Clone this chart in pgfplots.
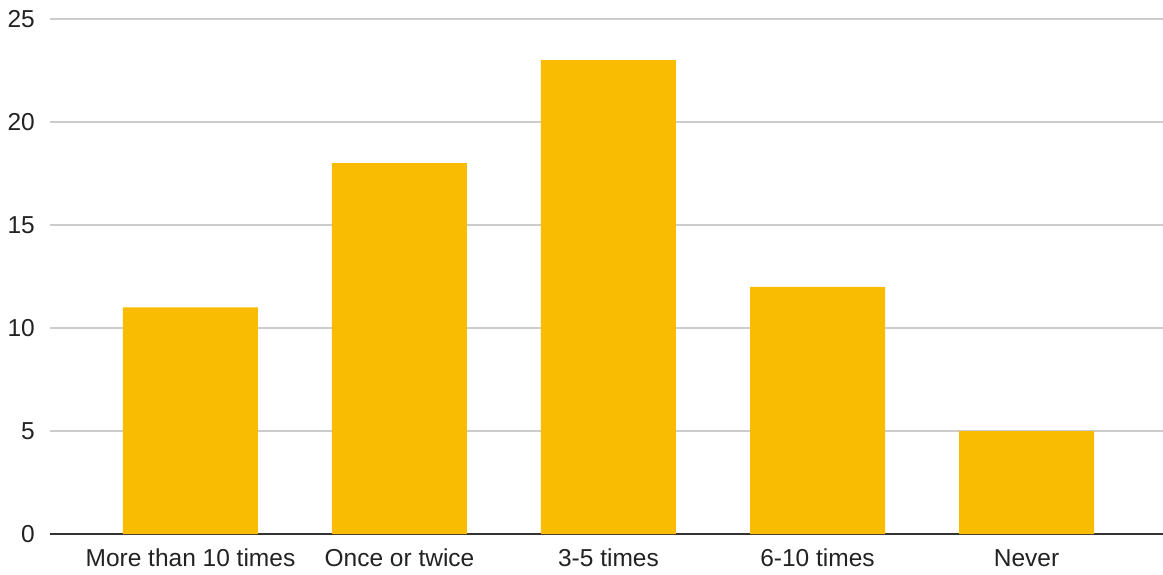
\documentclass[border=0pt]{standalone}
\usepackage{pgfplots}
\pgfplotsset{compat=1.18}
\usepackage{fontspec}
\setmainfont{Liberation Sans}
\definecolor{baryellow}{HTML}{F9BC03}
\definecolor{gridgray}{HTML}{CCCCCC}
\definecolor{axisdark}{HTML}{333333}
\definecolor{textdark}{HTML}{222222}
\begin{document}
\begin{tikzpicture}
\useasboundingbox (-50pt,-40pt) rectangle (1113pt,534pt);
\begin{axis}[
  at={(0,0)}, anchor=south west,
  scale only axis,
  width=1113pt, height=515pt,
  xmin=-0.672, xmax=4.653,
  ymin=0, ymax=25,
  ytick={0,5,10,15,20,25},
  xtick={0,1,2,3,4},
  xticklabels={More than 10 times, Once or twice, 3-5 times, 6-10 times, Never},
  axis y line*=left,
  axis x line*=bottom,
  y axis line style={draw=none},
  x axis line style={axisdark, line width=1.5pt, -},
  ymajorgrids,
  grid style={gridgray, line width=1.2pt},
  major tick length=0pt,
  /pgf/number format/assume math mode=true,
  tick label style={font=\fontsize{24.5}{29}\selectfont, text=textdark},
  yticklabel style={anchor=east, inner sep=0pt, xshift=-15pt},
  xticklabel style={anchor=base, inner sep=0pt, yshift=-32pt},
  clip=false,
]
\addplot[ybar, bar width=135pt, fill=baryellow, draw=none] coordinates {
  (0,11) (1,18) (2,23) (3,12) (4,5)
};
\end{axis}
\end{tikzpicture}
\end{document}
